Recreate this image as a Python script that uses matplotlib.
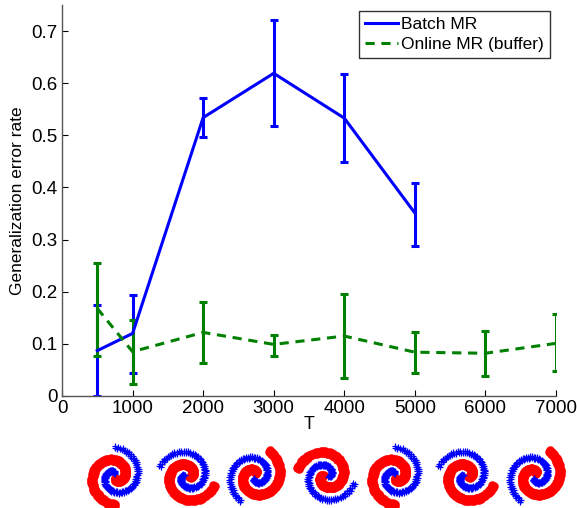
import matplotlib
matplotlib.use("Agg")
import matplotlib.pyplot as plt
from matplotlib.lines import Line2D
import numpy as np

plt.rcParams['font.family'] = ['Liberation Sans', 'DejaVu Sans']

# data
T_batch = [500, 1000, 2000, 3000, 4000, 5000]
batch_mean = [0.087, 0.120, 0.534, 0.619, 0.533, 0.351]
batch_low = [0.000, 0.045, 0.497, 0.517, 0.448, 0.288]
batch_high = [0.175, 0.194, 0.572, 0.721, 0.618, 0.409]

T_online = [500, 1000, 2000, 3000, 4000, 5000, 6000, 7000]
online_mean = [0.168, 0.085, 0.122, 0.099, 0.115, 0.084, 0.082, 0.101]
online_low = [0.077, 0.023, 0.064, 0.077, 0.034, 0.044, 0.038, 0.047]
online_high = [0.255, 0.146, 0.180, 0.117, 0.196, 0.122, 0.125, 0.157]

xticks = [0, 1000, 2000, 3000, 4000, 5000, 6000, 7000]
yticks = [0, 0.1, 0.2, 0.3, 0.4, 0.5, 0.6, 0.7]

# spiral thumbnails under the axis: rotation (deg) of each panel
spiral_rot = [0, 70, 150, 255, 0, 70, 150]
spiral_cx = [115, 187, 255, 326, 395, 466, 535]

W, H = 577, 508
fig = plt.figure(figsize=(W / 100, H / 100), dpi=100)
ax = fig.add_axes([62 / W, 1 - 396 / H, (556 - 62) / W, (396 - 5) / H])

blue = '#0000ff'
green = '#008000'

b_err = [np.array(batch_mean) - np.array(batch_low), np.array(batch_high) - np.array(batch_mean)]
o_err = [np.array(online_mean) - np.array(online_low), np.array(online_high) - np.array(online_mean)]

ax.errorbar(T_batch, batch_mean, yerr=b_err, color=blue, lw=2.2, elinewidth=2.2,
            capsize=2.8, capthick=2.2)
ln = ax.errorbar(T_online, online_mean, yerr=o_err, color=green, lw=2.2, elinewidth=2.2,
                 capsize=2.8, capthick=2.2, ls='--')
ln[0].set_dashes([3, 2.2])

ax.set_xlim(0, 7000)
ax.set_ylim(0, 0.75)
ax.set_xticks(xticks)
ax.set_xticklabels([str(v) for v in xticks])
ax.set_yticks(yticks)
ax.set_yticklabels(['0'] + ['%.1f' % v for v in yticks[1:]])
ax.tick_params(direction='in', labelsize=13.5, length=4, width=0.8, pad=3)
ax.spines['top'].set_visible(False)
ax.spines['right'].set_visible(False)
for s in ['left', 'bottom']:
    ax.spines[s].set_color('#555555')
    ax.spines[s].set_linewidth(1.0)
ax.set_xlabel('T', fontsize=13, labelpad=-1)
ax.set_ylabel('Generalization error rate', fontsize=12.5, labelpad=5)

handles = [Line2D([], [], color=blue, lw=2.2),
           Line2D([], [], color=green, lw=2.2, dashes=[3, 2.2])]
leg = ax.legend(handles, ['Batch MR', 'Online MR (buffer)'], loc='upper right',
                fontsize=12.5, frameon=True, fancybox=False,
                handlelength=1.9, handletextpad=0.2, borderpad=0.35, labelspacing=0.25,
                borderaxespad=0.35)
leg.get_frame().set_edgecolor('black')
leg.get_frame().set_linewidth(1.0)

# spiral pictures
s = np.linspace(0, 1, 70)
for cx, rot in zip(spiral_cx, spiral_rot):
    sa = fig.add_axes([(cx - 33) / W, 1 - (476 + 33) / H, 66 / W, 66 / H])
    sa.set_xlim(-1.15, 1.15)
    sa.set_ylim(-1.15, 1.15)
    sa.set_aspect('equal')
    sa.axis('off')
    r = 0.12 + 0.88 * s
    for base, col, mk, ms in [(-90, 'red', 'o', 5.2), (90, blue, '+', 5.0)]:
        th = np.deg2rad(base + rot) + s * 2 * np.pi * 1.0
        for dr in [-0.035, 0.035]:
            sa.plot((r + dr) * np.cos(th), (r + dr) * np.sin(th), ls='none', marker=mk,
                    color=col, ms=ms, mew=0.9)

fig.savefig('out.png', dpi=100)
